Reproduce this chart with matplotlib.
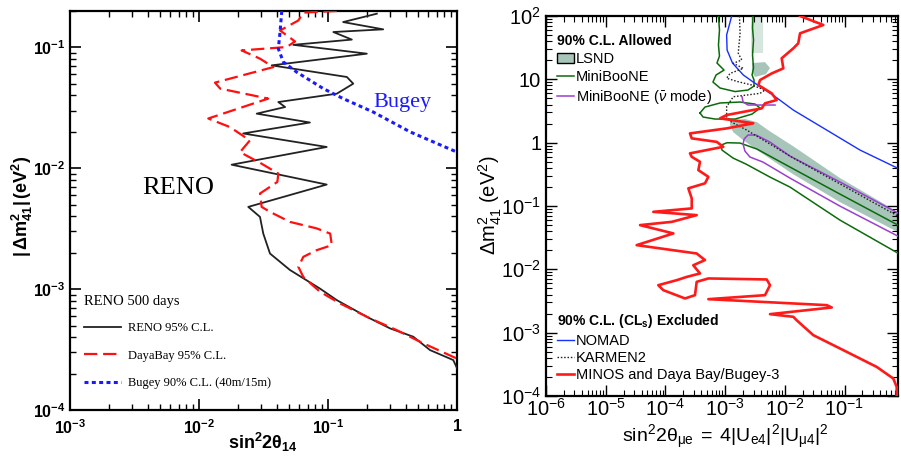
import numpy as np
import matplotlib
matplotlib.use("Agg")
import matplotlib.pyplot as plt
from matplotlib.lines import Line2D
from matplotlib.patches import Patch
from matplotlib.ticker import LogLocator, FuncFormatter, NullFormatter, FixedLocator

plt.rcParams['font.family'] = ['Liberation Sans', 'DejaVu Sans']
plt.rcParams['mathtext.fontset'] = 'custom'
plt.rcParams['mathtext.rm'] = 'Liberation Sans'
plt.rcParams['mathtext.bf'] = 'Liberation Sans:bold'
plt.rcParams['mathtext.it'] = 'Liberation Sans:italic'
plt.rcParams['mathtext.sf'] = 'Liberation Sans'

# ---------------- Left panel data (sin^2 2theta14, dm41^2) ----------------
left_xticks = [1e-3, 1e-2, 1e-1, 1]
left_yticks = [1e-4, 1e-3, 1e-2, 1e-1]

reno_s = [0.239, 0.131, 0.268, 0.110, 0.153, 0.0538, 0.200, 0.0366, 0.140, 0.157,
          0.117, 0.0412, 0.0465, 0.0280, 0.0724, 0.0220, 0.0977, 0.0179, 0.0977, 0.0241,
          0.0297, 0.0315, 0.0355, 0.0507, 0.0867, 0.117, 0.200, 0.303, 0.458, 0.618,
          0.935, 1.0]
reno_m = [0.190, 0.162, 0.141, 0.134, 0.116, 0.105, 0.0887, 0.0710, 0.0569, 0.0501,
          0.0414, 0.0353, 0.0321, 0.0283, 0.0239, 0.0194, 0.0150, 0.0107, 0.00733, 0.00479,
          0.00396, 0.00288, 0.00197, 0.00144, 0.00101, 8.11e-4, 5.90e-4, 4.73e-4, 4.04e-4, 3.13e-4,
          2.59e-4, 2.22e-4]

dyb_s = [0.117, 0.0644, 0.0589, 0.0425, 0.0555, 0.0479, 0.0214, 0.0297, 0.0377, 0.0133,
         0.0146, 0.0344, 0.0118, 0.0174, 0.0248, 0.0208, 0.0306, 0.0412, 0.0405, 0.0297,
         0.0306, 0.0355, 0.0507, 0.0817, 0.104, 0.107, 0.0817, 0.0644, 0.0589, 0.0644,
         0.0867, 0.124, 0.212, 0.341, 0.548, 0.995]
dyb_m = [0.200, 0.194, 0.167, 0.138, 0.112, 0.1007, 0.0944, 0.0807, 0.0687, 0.0511,
         0.0456, 0.0377, 0.0258, 0.0219, 0.0170, 0.0136, 0.0109, 0.00904, 0.00771, 0.00618,
         0.00479, 0.00436, 0.00360, 0.00318, 0.00288, 0.00231, 0.00210, 0.00185, 0.00153, 0.00126,
         9.51e-4, 7.62e-4, 5.73e-4, 4.58e-4, 3.56e-4, 2.67e-4]

bugey_s = [0.0438, 0.0425, 0.0412, 0.0451, 0.0571, 0.0920, 0.131, 0.224, 0.433, 1.0]
bugey_m = [0.200, 0.134, 0.0975, 0.0757, 0.0625, 0.0456, 0.0377, 0.0292, 0.0200, 0.0136]

# ---------------- Right panel data (sin^2 2theta_mue, dm41^2) ----------------
right_xticks = [1e-6, 1e-5, 1e-4, 1e-3, 1e-2, 1e-1]
right_yticks = [1e-4, 1e-3, 1e-2, 1e-1, 1, 10, 100]

minos_s = [0.0180, 0.0442, 0.0180, 0.0168, 0.0139, 0.00887, 0.00944, 0.00604, 0.00385, 0.00360,
           0.00604, 0.00731, 0.00466, 0.00410, 0.00106, 8.22e-4, 0.00296, 0.00106, 2.58e-4, 2.76e-4,
           7.23e-4, 9.33e-4, 2.58e-4, 2.76e-4, 3.80e-4, 3.56e-4, 5.24e-4, 4.60e-4, 2.42e-4, 2.76e-4,
           2.76e-4, 6.27e-5, 3.34e-4, 1.28e-4, 3.76e-5, 1.36e-4, 3.30e-5, 3.34e-4, 4.60e-4, 2.93e-4,
           3.80e-4, 2.28e-4, 1.55e-4, 7.60e-5, 9.23e-5, 2.13e-4, 3.13e-4, 3.34e-4, 5.24e-4, 0.00498,
           0.00565, 0.00466, 5.24e-4, 0.0504, 0.0611, 0.00565, 0.0139, 0.0158, 0.0300, 0.0955,
           0.346, 0.656, 0.748, 0.748]
minos_m = [100, 72.1, 53.3, 37.1, 30.9, 21.5, 14.9, 12.4, 9.75, 8.13,
           6.01, 4.71, 4.18, 3.48, 2.73, 2.42, 2.02, 1.68, 1.40, 1.17,
           1.03, 0.861, 0.678, 0.598, 0.499, 0.369, 0.289, 0.228, 0.190, 0.132,
           0.0916, 0.0809, 0.0718, 0.0562, 0.0499, 0.0369, 0.0241, 0.0178, 0.0140, 0.0116,
           0.00861, 0.00760, 0.00675, 0.00562, 0.00469, 0.00347, 0.00391, 0.00635, 0.00718, 0.00692,
           0.00562, 0.00391, 0.00338, 0.00272, 0.00250, 0.00196, 0.00178, 0.00157, 9.14e-4, 5.30e-4,
           2.88e-4, 1.89e-4, 1.39e-4, 1e-4]

nomad_s = [1.29e-3, 1.06e-3, 1.08e-3, 1.33e-3, 2.02e-3, 2.96e-3, 6.86e-3, 0.0139, 0.0504, 0.182, 0.787]
nomad_m = [100, 50.1, 29.0, 18.1, 11.7, 9.06, 5.35, 3.27, 1.58, 0.764, 0.393]

karmen_s = [1.74e-3, 1.78e-3, 1.66e-3, 1.90e-3, 1.37e-3, 2.02e-3, 1.21e-3, 1.06e-3, 1.66e-3, 2.79e-3,
            4.66e-3, 3.85e-3, 1.37e-3, 1.06e-3, 1.06e-3, 1.29e-3, 2.30e-3, 0.0139, 0.787]
karmen_m = [100, 53.3, 25.8, 20.2, 17.9, 14.9, 12.4, 10.4, 9.16, 8.13,
            6.78, 6.01, 5.31, 3.69, 2.56, 2.11, 1.58, 0.571, 0.0692]

mb_top_s = [7.74e-4, 8.05e-4, 7.74e-4, 8.05e-4, 7.31e-4, 9.60e-4, 7.05e-4, 6.26e-4, 8.22e-4, 1.47e-3,
            2.42e-3, 3.05e-3, 3.05e-3, 2.83e-3, 2.99e-3, 2.88e-3, 2.99e-3, 2.88e-3, 2.93e-3]
mb_top_m = [100, 60.1, 34.8, 23.3, 18.1, 14.0, 11.7, 9.06, 7.29, 6.41,
            6.78, 7.83, 9.75, 11.7, 15.1, 24.2, 41.8, 64.6, 100]

mb_isl_s = [3.80e-4, 4.60e-4, 8.22e-4, 1.78e-3, 3.17e-3, 3.85e-3, 2.83e-3, 1.47e-3, 6.78e-4, 4.27e-4, 3.80e-4]
mb_isl_m = [2.94, 3.65, 4.23, 4.38, 4.07, 3.52, 2.83, 2.36, 2.36, 2.54, 2.94]

mb_main_s = [0.787, 0.0841, 0.0122, 3.42e-3, 1.78e-3, 1.08e-3, 8.53e-4, 8.87e-4, 1.36e-3, 2.24e-3,
             5.65e-3, 0.0122, 0.0841, 0.787]
mb_main_m = [0.0499, 0.154, 0.412, 0.792, 0.986, 0.998, 0.916, 0.764, 0.571, 0.459,
             0.286, 0.199, 0.0598, 0.0180]

mbbar_main_s = [0.787, 0.0841, 0.0122, 0.00565, 0.00330, 0.00242, 0.00208, 0.00200, 0.00215, 0.00261,
                0.00431, 0.0122, 0.0841, 0.787]
mbbar_main_m = [0.0773, 0.239, 0.614, 1.02, 1.32, 1.32, 1.14, 0.95, 0.736, 0.593,
                0.494, 0.276, 0.0995, 0.0334]
mbbar_top_s = [1.92e-3, 2.00e-3, 2.42e-3, 6.86e-3]
mbbar_top_m = [5.30, 4.38, 3.93, 3.93]

lsnd_s = [1.21e-3, 2.15e-3, 3.42e-3, 5.23e-3, 0.0137, 0.0841, 0.787,
          0.787, 0.0841, 0.0137, 3.85e-3, 2.00e-3, 1.36e-3, 1.21e-3]
lsnd_m = [2.28, 2.36, 2.11, 1.58, 0.883, 0.276, 0.0802,
          0.0387, 0.115, 0.319, 0.711, 1.10, 1.47, 1.90]
lsnd_strip_s = [2.72e-3, 4.31e-3, 4.31e-3, 2.72e-3]
lsnd_strip_m = [100, 100, 26.0, 26.0]
lsnd_blob_s = [2.83e-3, 4.66e-3, 5.65e-3, 4.84e-3, 3.17e-3, 2.83e-3]
lsnd_blob_m = [18.1, 18.7, 15.1, 12.1, 10.9, 13.0]

LSND_C = '#a7c6b9'
GREEN = '#0b6b0b'
PURPLE = '#9a3fd0'

fig = plt.figure(figsize=(9.01, 4.57), dpi=100)
W, H = 901.0, 457.0
axL = fig.add_axes([70 / W, 1 - 410 / H, 387 / W, 399 / H])
axR = fig.add_axes([546 / W, 1 - 396 / H, 352 / W, 380 / H])

# ---------------- Left panel ----------------
axL.plot(reno_s, reno_m, color='#222222', lw=1.3, zorder=3)
axL.plot(dyb_s, dyb_m, color='#ff1010', lw=1.6, dashes=(6, 2.6), zorder=3)
axL.plot(bugey_s, bugey_m, color='#1a1aff', lw=2.2, dashes=(1.3, 1.1), zorder=3)
axL.set_xscale('log')
axL.set_yscale('log')
axL.set_xlim(1e-3, 1)
axL.set_ylim(1e-4, 0.2)

def fmt_bold(v, pos):
    e = int(round(np.log10(v)))
    if e == 0:
        return r'$\mathbf{1}$'
    return r'$\mathbf{10^{%d}}$' % e

for a, tk in ((axL.xaxis, left_xticks), (axL.yaxis, left_yticks)):
    a.set_major_locator(FixedLocator(tk))
    a.set_minor_locator(LogLocator(base=10, subs=np.arange(2, 10), numticks=10))
    a.set_major_formatter(FuncFormatter(fmt_bold))
    a.set_minor_formatter(NullFormatter())
axL.tick_params(which='both', direction='in', top=True, right=True, labelsize=11.5)
axL.tick_params(which='major', length=8, width=1.2)
axL.tick_params(which='minor', length=4.5, width=1.0)
axL.tick_params(axis='x', pad=6)
for sp in axL.spines.values():
    sp.set_linewidth(1.6)

axL.text(178 / W, 1 - 188 / H, 'RENO', transform=fig.transFigure, ha='center', va='center',
         fontsize=19, family='Liberation Serif')
axL.text(373 / W, 1 - 103 / H, 'Bugey', transform=fig.transFigure, ha='left', va='center',
         fontsize=16, family='Liberation Serif', color='#1a1aff')

hL = [Line2D([], [], color='#222222', lw=1.3),
      Line2D([], [], color='#ff1010', lw=1.6, dashes=(6, 2.6)),
      Line2D([], [], color='#1a1aff', lw=2.2, dashes=(1.3, 1.1))]
legL = axL.legend(hL, ['RENO 95% C.L.', 'DayaBay 95% C.L.', 'Bugey 90% C.L. (40m/15m)'],
                  loc='upper left', bbox_to_anchor=(0.035, 0.288), frameon=False,
                  prop={'family': 'Liberation Serif', 'size': 9},
                  title='RENO 500 days',
                  title_fontproperties={'family': 'Liberation Serif', 'size': 10.5},
                  alignment='left', handlelength=3.0, handletextpad=0.55,
                  labelspacing=1.25, borderpad=0, borderaxespad=0)
legL._legend_box.sep = 10

fig.text(263 / W, 1 - 442 / H, r'$\mathbf{sin^2 2\theta_{14}}$', ha='center', va='center', fontsize=13)
fig.text(22 / W, 1 - 206 / H, r'$\mathbf{|\,\Delta m^2_{41}|\,(eV^2)}$', ha='center', va='center',
         fontsize=13, rotation=90)

# ---------------- Right panel ----------------
axR.fill(lsnd_s, lsnd_m, color=LSND_C, lw=0, zorder=1)
axR.fill(lsnd_strip_s, lsnd_strip_m, color=LSND_C, alpha=0.45, lw=0, zorder=1)
axR.fill(lsnd_blob_s, lsnd_blob_m, color=LSND_C, lw=0, zorder=1)
axR.plot(mb_top_s, mb_top_m, color=GREEN, lw=1.1, zorder=3)
axR.plot(mb_isl_s, mb_isl_m, color=GREEN, lw=1.1, zorder=3)
axR.plot(mb_main_s, mb_main_m, color=GREEN, lw=1.1, zorder=3)
axR.plot(mbbar_main_s, mbbar_main_m, color=PURPLE, lw=1.1, zorder=3)
axR.plot(mbbar_top_s, mbbar_top_m, color=PURPLE, lw=1.1, zorder=3)
axR.plot(nomad_s, nomad_m, color='#1530ff', lw=1.0, zorder=4)
axR.plot(karmen_s, karmen_m, color='#222222', lw=1.0, dashes=(1.1, 1.3), zorder=4)
axR.plot(minos_s, minos_m, color='#ff1a1a', lw=1.9, zorder=5)
axR.set_xscale('log')
axR.set_yscale('log')
axR.set_xlim(1e-6, 0.787)
axR.set_ylim(1e-4, 100)

def fmt_reg(v, pos):
    e = int(round(np.log10(v)))
    if e == 0:
        return '1'
    if e == 1:
        return '10'
    return r'$\mathregular{10^{%d}}$' % e

for a, tk in ((axR.xaxis, right_xticks), (axR.yaxis, right_yticks)):
    a.set_major_locator(FixedLocator(tk))
    a.set_minor_locator(LogLocator(base=10, subs=np.arange(2, 10), numticks=12))
    a.set_major_formatter(FuncFormatter(fmt_reg))
    a.set_minor_formatter(NullFormatter())
axR.tick_params(which='both', direction='in', top=True, right=True, labelsize=14.5)
axR.tick_params(which='major', length=8, width=1.0)
axR.tick_params(which='minor', length=4, width=0.8)
axR.tick_params(axis='x', pad=1.5)
for sp in axR.spines.values():
    sp.set_linewidth(1.6)

hR1 = [Patch(facecolor=LSND_C, edgecolor='black', lw=1.0),
       Line2D([], [], color=GREEN, lw=1.1),
       Line2D([], [], color=PURPLE, lw=1.1)]
leg1 = axR.legend(hR1, ['LSND', 'MiniBooNE', r'MiniBooNE ($\bar{\nu}$ mode)'],
                  loc='upper left', bbox_to_anchor=(0.03, 0.953), frameon=False,
                  fontsize=10.5, title='90% C.L. Allowed',
                  title_fontproperties={'weight': 'bold', 'size': 10},
                  alignment='left', handlelength=1.2, handletextpad=0.15,
                  labelspacing=0.28, borderpad=0, borderaxespad=0)
axR.add_artist(leg1)
hR2 = [Line2D([], [], color='#1530ff', lw=1.0),
       Line2D([], [], color='#222222', lw=1.0, dashes=(1.1, 1.3)),
       Line2D([], [], color='#ff1a1a', lw=1.9)]
leg2 = axR.legend(hR2, ['NOMAD', 'KARMEN2', 'MINOS and Daya Bay/Bugey-3'],
                  loc='upper left', bbox_to_anchor=(0.03, 0.22), frameon=False,
                  fontsize=10.5, title=r'90% C.L. (CL$_\mathbf{s}$) Excluded',
                  title_fontproperties={'weight': 'bold', 'size': 10},
                  alignment='left', handlelength=1.2, handletextpad=0.15,
                  labelspacing=0.22, borderpad=0, borderaxespad=0)

fig.text(725 / W, 1 - 437 / H, r'$\mathregular{sin^2 2\theta_{\mu e}\; = \;4|U_{e4}|^2|U_{\mu 4}|^2}$',
         ha='center', va='center', fontsize=14)
fig.text(490 / W, 1 - 205 / H, r'$\mathregular{\Delta m^2_{41}}$ (eV$\mathregular{^2}$)',
         ha='center', va='center', fontsize=14.5, rotation=90)

fig.savefig('out.png', dpi=100)
